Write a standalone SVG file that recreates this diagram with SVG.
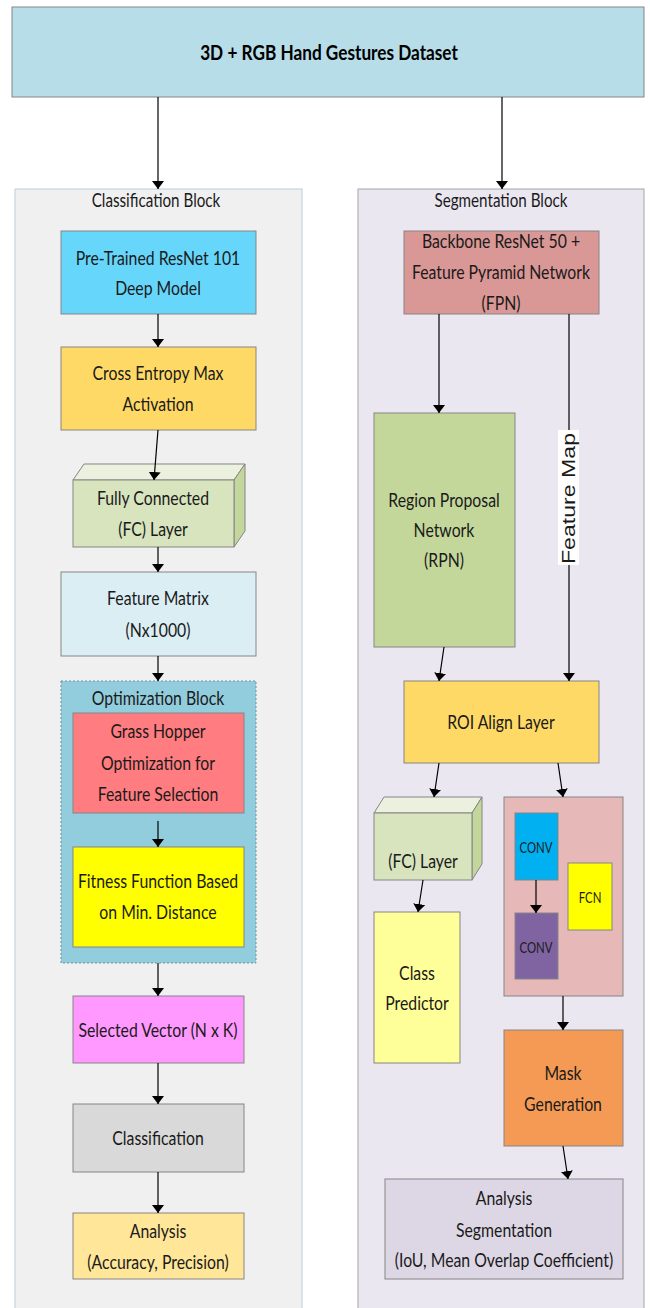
<svg xmlns="http://www.w3.org/2000/svg" width="650" height="1308" viewBox="0 0 650 1308">
  <style>
    .box { stroke: #858585; stroke-width: 1; }
    text { font-family: Lato, "Liberation Sans", Arial, sans-serif; fill: #1a1a1a; text-anchor: middle; }
    .t { font-size: 20px; }
    .lbl { font-size: 19px; }
    .small { font-size: 15px; }
    .title { font-size: 21px; font-weight: bold; fill: #000; }
    .conn line { stroke: #000; stroke-width: 1.2; marker-end: url(#arrow); }
  </style>
  <defs>
    <marker id="arrow" viewBox="0 0 8 12" refX="8" refY="6" markerWidth="8" markerHeight="12" markerUnits="userSpaceOnUse" orient="auto">
      <path d="M0,0 L8,6 L0,12 z" fill="#000"/>
    </marker>
  </defs>

  <rect width="650" height="1308" fill="#ffffff"/>

  <!-- dataset -->
  <g id="dataset">
    <rect class="box" x="12" y="7" width="632" height="90" fill="#b7dde8"/>
    <g transform="translate(329,0) scale(0.82,1)"><text class="title" x="0" y="60">3D + RGB Hand Gestures Dataset</text></g>
  </g>

  <!-- left column container -->
  <g id="classification-block">
    <rect x="15" y="189" width="287" height="1130" fill="#f0f0f0" stroke="#b5d2dc" stroke-width="1"/>
    <g transform="translate(156,0) scale(0.8,1)"><text class="lbl" x="0" y="207">Classification Block</text></g>
  </g>

  <!-- right column container -->
  <g id="segmentation-block">
    <rect x="358" y="189" width="286" height="1130" fill="#ebe7f1" stroke="#a6a6a6" stroke-width="1"/>
    <g transform="translate(501,0) scale(0.8,1)"><text class="lbl" x="0" y="207">Segmentation Block</text></g>
  </g>

  <g id="resnet101">
    <rect class="box" x="61" y="231" width="195" height="83" fill="#66d6fb"/>
    <g transform="translate(158,0) scale(0.79,1)">
      <text class="t" x="0" y="265">Pre-Trained ResNet 101</text>
      <text class="t" x="0" y="295">Deep Model</text>
    </g>
  </g>

  <g id="cross-entropy">
    <rect class="box" x="61" y="347" width="195" height="83" fill="#ffd966"/>
    <g transform="translate(158,0) scale(0.79,1)">
      <text class="t" x="0" y="380">Cross Entropy Max</text>
      <text class="t" x="0" y="411">Activation</text>
    </g>
  </g>

  <g id="fc-layer-left">
    <polygon class="box" points="73,480 84,464 245,464 234,480" fill="#ebf1de"/>
    <polygon class="box" points="234,480 245,464 245,531 234,547" fill="#c3d69b"/>
    <rect class="box" x="73" y="480" width="161" height="67" fill="#d7e4bd"/>
    <g transform="translate(153,0) scale(0.79,1)">
      <text class="t" x="0" y="505">Fully Connected</text>
      <text class="t" x="0" y="536">(FC) Layer</text>
    </g>
  </g>

  <g id="feature-matrix">
    <rect class="box" x="61" y="572" width="195" height="84" fill="#dbeef4"/>
    <g transform="translate(158,0) scale(0.79,1)">
      <text class="t" x="0" y="605">Feature Matrix</text>
      <text class="t" x="0" y="637">(Nx1000)</text>
    </g>
  </g>

  <g id="optimization-block">
    <rect x="61" y="681" width="195" height="282" fill="#92cddd" stroke="#6f8f9c" stroke-width="1" stroke-dasharray="2,2"/>
    <g transform="translate(158,0) scale(0.79,1)"><text class="t" x="0" y="705">Optimization Block</text></g>
  </g>

  <g id="grasshopper">
    <rect class="box" x="73" y="713" width="171" height="100" fill="#ff7c80"/>
    <g transform="translate(158,0) scale(0.79,1)">
      <text class="t" x="0" y="738">Grass Hopper</text>
      <text class="t" x="0" y="770">Optimization for</text>
      <text class="t" x="0" y="801">Feature Selection</text>
    </g>
  </g>

  <g id="fitness">
    <rect class="box" x="73" y="847" width="171" height="100" fill="#ffff00"/>
    <g transform="translate(158,0) scale(0.79,1)">
      <text class="t" x="0" y="888">Fitness Function Based</text>
      <text class="t" x="0" y="919">on Min. Distance</text>
    </g>
  </g>

  <g id="selected-vector">
    <rect class="box" x="73" y="996" width="171" height="67" fill="#ff99ff"/>
    <g transform="translate(158,0) scale(0.79,1)"><text class="t" x="0" y="1037">Selected Vector (N x K)</text></g>
  </g>

  <g id="classification">
    <rect class="box" x="73" y="1104" width="171" height="68" fill="#d9d9d9"/>
    <g transform="translate(158,0) scale(0.79,1)"><text class="t" x="0" y="1145">Classification</text></g>
  </g>

  <g id="analysis-classification">
    <rect class="box" x="73" y="1213" width="171" height="66" fill="#ffe699"/>
    <g transform="translate(158,0) scale(0.79,1)">
      <text class="t" x="0" y="1238">Analysis</text>
      <text class="t" x="0" y="1269">(Accuracy, Precision)</text>
    </g>
  </g>

  <g id="backbone">
    <rect class="box" x="404" y="231" width="195" height="83" fill="#d99795"/>
    <g transform="translate(501,0) scale(0.79,1)">
      <text class="t" x="0" y="248">Backbone ResNet 50 +</text>
      <text class="t" x="0" y="279">Feature Pyramid Network</text>
      <text class="t" x="0" y="310">(FPN)</text>
    </g>
  </g>

  <g id="rpn">
    <rect class="box" x="374" y="413" width="141" height="234" fill="#c4d79b"/>
    <g transform="translate(444,0) scale(0.79,1)">
      <text class="t" x="0" y="507">Region Proposal</text>
      <text class="t" x="0" y="537">Network</text>
      <text class="t" x="0" y="567">(RPN)</text>
    </g>
  </g>

  <g id="roi-align">
    <rect class="box" x="404" y="681" width="195" height="82" fill="#ffd966"/>
    <g transform="translate(501,0) scale(0.79,1)"><text class="t" x="0" y="729">ROI Align Layer</text></g>
  </g>

  <g id="fc-layer-right">
    <polygon class="box" points="374,813 384,797 482,797 472,813" fill="#ebf1de"/>
    <polygon class="box" points="472,813 482,797 482,864 472,880" fill="#c3d69b"/>
    <rect class="box" x="374" y="813" width="98" height="67" fill="#d7e4bd"/>
    <g transform="translate(423,0) scale(0.79,1)"><text class="t" x="0" y="868">(FC) Layer</text></g>
  </g>

  <g id="class-predictor">
    <rect class="box" x="374" y="912" width="86" height="151" fill="#ffff99"/>
    <g transform="translate(417,0) scale(0.79,1)">
      <text class="t" x="0" y="980">Class</text>
      <text class="t" x="0" y="1010">Predictor</text>
    </g>
  </g>

  <g id="mask-head">
    <rect class="box" x="504" y="797" width="119" height="199" fill="#e6b9b8"/>
  </g>

  <g id="conv-1">
    <rect class="box" x="515" y="813" width="43" height="67" fill="#00b0f0"/>
    <g transform="translate(536,0) scale(0.76,1)"><text class="small" x="0" y="853">CONV</text></g>
  </g>

  <g id="conv-2">
    <rect class="box" x="515" y="913" width="43" height="66" fill="#8064a2"/>
    <g transform="translate(536,0) scale(0.76,1)"><text class="small" x="0" y="953">CONV</text></g>
  </g>

  <g id="fcn">
    <rect class="box" x="568" y="863" width="44" height="67" fill="#ffff00"/>
    <g transform="translate(590,0) scale(0.76,1)"><text class="small" x="0" y="903">FCN</text></g>
  </g>

  <g id="mask-generation">
    <rect class="box" x="504" y="1030" width="119" height="116" fill="#f59a54"/>
    <g transform="translate(563,0) scale(0.79,1)">
      <text class="t" x="0" y="1080">Mask</text>
      <text class="t" x="0" y="1111">Generation</text>
    </g>
  </g>

  <g id="analysis-segmentation">
    <rect class="box" x="385" y="1179" width="238" height="100" fill="#ddd7e5"/>
    <g transform="translate(504,0) scale(0.79,1)">
      <text class="t" x="0" y="1205">Analysis</text>
      <text class="t" x="0" y="1237">Segmentation</text>
      <text class="t" x="0" y="1267">(IoU, Mean Overlap Coefficient)</text>
    </g>
  </g>

  <!-- connectors -->
  <g id="connectors" class="conn">
    <line x1="158" y1="97" x2="158" y2="189"/>
    <line x1="502" y1="97" x2="502" y2="189"/>
    <line x1="158" y1="314" x2="158" y2="347"/>
    <line x1="158" y1="430" x2="154" y2="480"/>
    <line x1="158" y1="547" x2="158" y2="572"/>
    <line x1="158" y1="656" x2="158" y2="681"/>
    <line x1="158" y1="821" x2="158" y2="847"/>
    <line x1="158" y1="963" x2="158" y2="996"/>
    <line x1="158" y1="1063" x2="158" y2="1104"/>
    <line x1="158" y1="1172" x2="158" y2="1213"/>
    <line x1="439" y1="314" x2="439" y2="413"/>
    <line x1="569" y1="314" x2="569" y2="681"/>
    <line x1="444" y1="647" x2="439" y2="681"/>
    <line x1="439" y1="763" x2="434" y2="797"/>
    <line x1="558" y1="763" x2="563" y2="797"/>
    <line x1="423" y1="880" x2="418" y2="912"/>
    <line x1="536" y1="880" x2="536" y2="913"/>
    <line x1="563" y1="996" x2="563" y2="1030"/>
    <line x1="563" y1="1146" x2="568" y2="1179"/>
  </g>

  <!-- label on the feature-map link -->
  <g id="feature-map-label">
    <rect x="558" y="430" width="21" height="135" fill="#ffffff"/>
    <text x="0" y="0" transform="translate(575,564) rotate(-90)" style="font-family:'Liberation Sans', Arial, sans-serif; text-anchor:start" font-size="19" textLength="131" lengthAdjust="spacingAndGlyphs">Feature Map</text>
  </g>
</svg>
